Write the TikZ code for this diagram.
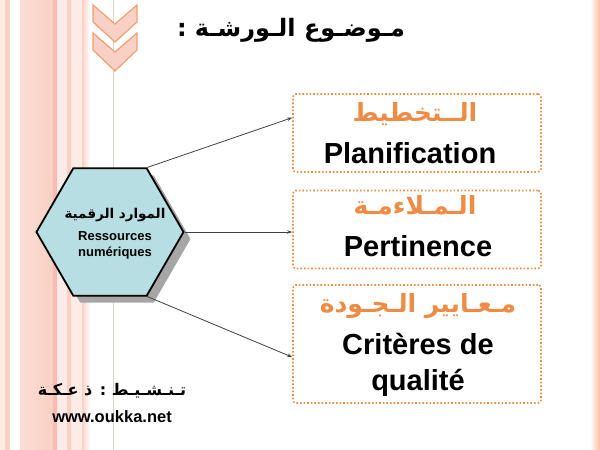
\documentclass[tikz,border=0pt]{standalone}
\usepackage{fontspec}
\setmainfont{Liberation Sans}
\newfontfamily\arabfont[Script=Arabic]{DejaVu Sans}
\TeXXeTstate=1
\usetikzlibrary{shapes.geometric,arrows.meta,shadows}

\definecolor{hexblue}{RGB}{183,222,226}
\definecolor{boxorange}{RGB}{238,140,70}
\definecolor{chevpink}{RGB}{248,208,198}
\definecolor{chevline}{RGB}{240,160,112}
\definecolor{stripepink}{RGB}{248,208,196}
\definecolor{stripepeach}{RGB}{252,222,212}
\definecolor{stripelight}{RGB}{253,236,230}
\definecolor{edgeline}{RGB}{220,212,196}

\tikzset{
  topic/.style={draw=boxorange,dotted,line width=1.6pt,rounded corners=3pt,
    minimum width=248pt,minimum height=78pt},
  artext/.style={font=\arabfont\bfseries\fontsize{25}{29}\selectfont,text=boxorange,anchor=base},
  frtext/.style={font=\bfseries\fontsize{29}{34}\selectfont,anchor=base},
  link/.style={draw=black!75,line width=0.8pt,-{Stealth[length=5pt,width=3.5pt]}},
  chevron/.style={fill=chevpink,draw=chevline,line width=1.2pt}
}

\begin{document}
\begin{tikzpicture}[x=1pt,y=-1pt]
  \useasboundingbox (0,0) rectangle (600,450);

  % left stripes
  \fill[stripelight] (0,0) rectangle (5,450);
  \fill[stripepink] (5,0) rectangle (10,450);
  \fill[left color=stripepeach,right color=stripepink] (20,0) rectangle (53,450);
  \fill[stripepink!90!red] (53,0) rectangle (57,450);
  \fill[stripelight] (57,0) rectangle (67,450);
  \fill[stripepink] (67,0) rectangle (71,450);
  \fill[stripelight] (71,0) rectangle (82,450);
  \fill[left color=stripepink,right color=white] (82,0) rectangle (90,450);
  \draw[edgeline,line width=0.8pt] (113,0) -- (113,450);
  % right stripe
  \fill[left color=white,right color=stripepink!80!orange] (590,0) rectangle (600,450);

  % chevrons
  \filldraw[chevron] (93,5) -- (115,24) -- (137,5) -- (137,22) -- (115,42) -- (93,22) -- cycle;
  \filldraw[chevron] (93,33) -- (115,52) -- (137,33) -- (137,50) -- (115,71) -- (93,50) -- cycle;

  % title
  \node[font=\arabfont\bfseries\fontsize{24}{28}\selectfont,anchor=base] (title) at (291,36)
    {\beginR مـوضـوع الـورشـة :\endR};

  % hexagon
  \node[regular polygon,regular polygon sides=6,minimum size=147pt,inner sep=0pt,
    fill=hexblue,draw=black,line width=1.8pt,
    drop shadow={shadow xshift=7pt,shadow yshift=-7pt,fill=black!35,opacity=1}] (hex) at (110,232) {};
  \node[font=\arabfont\bfseries\fontsize{13.5}{16}\selectfont,anchor=base] (hexar) at (115,218)
    {\beginR الموارد الرقمية\endR};
  \node[font=\bfseries\fontsize{13}{15}\selectfont,anchor=base] (hexfr1) at (115,240) {Ressources};
  \node[font=\bfseries\fontsize{13}{15}\selectfont,anchor=base] (hexfr2) at (115,256) {numériques};

  % boxes
  \node[topic] (plan) at (417,133) {};
  \node[topic] (pert) at (417,229.5) {};
  \node[topic,minimum height=118pt] (crit) at (417,344) {};

  \node[artext] (planar) at (415,121) {\beginR الــتخطيط\endR};
  \node[frtext] (planfr) at (410,163) {Planification};
  \node[artext] (pertar) at (415,214) {\beginR الـمـلاءمـة\endR};
  \node[frtext] (pertfr) at (418,256) {Pertinence};
  \node[artext] (critar) at (418,312) {\beginR مـعـايير الـجـودة\endR};
  \node[frtext] (critfr1) at (418,354) {Critères de};
  \node[frtext] (critfr2) at (418,390) {qualité};

  \draw[link] (hex.60) -- (plan.173);
  \draw[link] (hex.east) -- (pert.west |- hex.east);
  \draw[link] (hex.-60) -- (crit.186);

  % credits
  \node[font=\arabfont\bfseries\fontsize{16}{20}\selectfont,anchor=base] (author) at (112,395)
    {\beginR تـنـشـيـط : ذ عـكـة\endR};
  \node[font=\bfseries\fontsize{16.5}{20}\selectfont,anchor=base] (site) at (112,422) {www.oukka.net};
\end{tikzpicture}
\end{document}
